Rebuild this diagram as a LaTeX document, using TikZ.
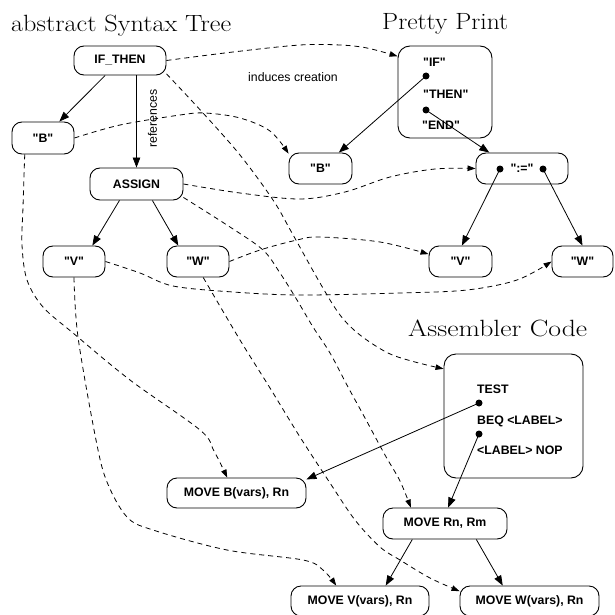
\documentclass[tikz,border=0pt]{standalone}
\usepackage{fontspec}
\usepackage{graphicx}
\newfontfamily\helv{Liberation Sans}
\usetikzlibrary{arrows.meta}

\begin{document}
\begin{tikzpicture}[x=1pt,y=-1pt,
  nbox/.style={draw, line width=0.9pt, rounded corners=10pt, inner sep=0pt,
    minimum height=31pt, font=\helv\bfseries\fontsize{12.3}{14}\selectfont},
  npanel/.style={draw, line width=0.9pt, rounded corners=12pt, inner sep=0pt},
  lbltxt/.style={inner sep=0pt, anchor=base west,
    font=\helv\bfseries\fontsize{12.3}{14}\selectfont},
  notetxt/.style={inner sep=0pt, font=\helv\fontsize{12.3}{14}\selectfont},
  ttl/.style={inner sep=0pt, anchor=base west, font=\fontsize{23.5}{28}\selectfont},
  ndot/.style={circle, fill=black, inner sep=0pt, minimum size=7pt},
  solidarrow/.style={line width=0.8pt, -{Triangle[length=10pt,width=7.5pt]}},
  dasharrow/.style={line width=0.8pt, dash pattern=on 5pt off 4pt,
    -{Triangle[length=8pt,width=5.5pt]}},
]
% canvas
\fill[white] (0,0) rectangle (614,615);
\path[use as bounding box] (0,0) rectangle (614,615);

% titles
\node[ttl] (tAst) at (11,32) {\resizebox{220pt}{\height}{abstract Syntax Tree}};
\node[ttl] (tPp)  at (382,30) {\resizebox{126pt}{\height}{Pretty Print}};
\node[ttl] (tAsm) at (408,336) {\resizebox{179pt}{\height}{Assembler Code}};

% abstract syntax tree
\node[nbox, minimum width=92pt, minimum height=29pt] (ift) at (120,60.5) {IF\_THEN};
\node[nbox, minimum width=62pt, minimum height=32pt] (bL)  at (43,138) {"B"};
\node[nbox, minimum width=93pt, minimum height=32pt] (asg) at (136.5,184) {ASSIGN};
\node[nbox, minimum width=62pt] (vL) at (74,261.5) {"V"};
\node[nbox, minimum width=62pt] (wL) at (198,261.5) {"W"};

% pretty print
\node[npanel, minimum width=94pt, minimum height=92pt] (pp) at (445,92) {};
\node[lbltxt] (ppIf)   at (423,67)  {"IF"};
\node[lbltxt] (ppThen) at (423,99)  {"THEN"};
\node[lbltxt] (ppEnd)  at (422,129) {"END"};
\node[ndot] (ppd1) at (426,76) {};
\node[ndot] (ppd2) at (426,110) {};
\node[nbox, minimum width=63pt] (bM)  at (320.5,168.5) {"B"};
\node[nbox, minimum width=92pt] (asn) at (522,168.5) {":="};
\node[ndot] (asd1) at (500,169) {};
\node[ndot] (asd2) at (543,169) {};
\node[nbox, minimum width=63pt] (vR) at (460.5,261.5) {"V"};
\node[nbox, minimum width=61pt] (wR) at (582.5,261.5) {"W"};

% assembler code
\node[npanel, minimum width=139pt, minimum height=124pt] (asm) at (513.5,416) {};
\node[lbltxt] (aTest) at (477,393) {TEST};
\node[lbltxt] (aBeq)  at (477,424) {BEQ <LABEL>};
\node[lbltxt] (aNop)  at (477,454) {<LABEL> NOP};
\node[ndot] (asmd1) at (479,403) {};
\node[ndot] (asmd2) at (479,434) {};
\node[nbox, minimum width=139pt, minimum height=30pt] (mvB) at (236.5,493) {MOVE B(vars), Rn};
\node[nbox, minimum width=124pt] (mvR) at (445,523.5) {MOVE Rn, Rm};
\node[nbox, minimum width=138pt, minimum height=30pt] (mvV) at (360,601) {MOVE V(vars), Rn};
\node[nbox, minimum width=139pt, minimum height=30pt] (mvW) at (529.5,601) {MOVE W(vars), Rn};

% edge labels
\node[notetxt] (lInd) at (293,77) {induces creation};
\node[notetxt, rotate=90] (lRef) at (152.5,118.5) {references};

% tree edges
\draw[solidarrow] (ift) -- (bL);
\draw[solidarrow] (asg.north |- ift.south) -- (asg.north);
\draw[solidarrow] (asg.224) -- (vL.41);
\draw[solidarrow] (asg.-46) -- (wL.141);
\draw[solidarrow] (ppd1.center) -- (bM.41);
\draw[solidarrow] (ppd2.center) -- (asn.154);
\draw[solidarrow] (asd1.center) -- (vR.85);
\draw[solidarrow] (asd2.center) -- (wR.north);
\draw[solidarrow] (asmd1.center) -- (mvB.11);
\draw[solidarrow] (asmd2.center) -- (mvR.79);
\draw[solidarrow] (mvR.206) -- (mvV.31);
\draw[solidarrow] (mvR.-27) -- (mvW.150);

% references from the syntax tree
\draw[dasharrow] plot[smooth, tension=0.55] coordinates
  {(ift.east) (233,52) (300,45) (340,45) (367,48) (pp.143)};
\draw[dasharrow] plot[smooth, tension=0.55] coordinates
  {(bL.east) (120,125) (180,115) (205,113) (240,118) (270,131) (bM.155)};
\draw[dasharrow] plot[smooth, tension=0.55] coordinates
  {(asg.east) (240,193) (300,199) (345,192) (390,177) (435,169) (asn.west)};
\draw[dasharrow] plot[smooth, tension=0.55] coordinates
  {(ift.-16) (203,113) (240,155) (273,200) (292,233) (320,283) (340,315) (360,335) (388,353) (415,362) (asm.146)};
\draw[dasharrow] plot[smooth, tension=0.55] coordinates
  {(wL.east) (260,250) (297,240) (320,237) (380,242) (vR.167)};
\draw[dasharrow] plot[smooth, tension=0.55] coordinates
  {(vL.east) (140,273) (173,286) (233,292) (300,295) (400,293) (467,290) (517,280) (wR.west)};
\draw[dasharrow] plot[smooth, tension=0.55] coordinates
  {(bL.222) (23,207) (22,245) (27,280) (43,307) (73,333) (130,380) (200,430) (214,451) (mvB.121)};
\draw[dasharrow] plot[smooth, tension=0.55] coordinates
  {(vL.south) (78,337) (96,440) (107,482) (127,517) (153,530) (227,550) (303,560) (323,570) (mvV.147)};
\draw[dasharrow] plot[smooth, tension=0.55] coordinates
  {(wL.-72) (240,340) (270,388) (300,437) (330,483) (355,520) (380,547) (400,560) (430,578) (mvW.172)};
\draw[dasharrow] plot[smooth, tension=0.55] coordinates
  {(asg.-16) (230,227) (263,250) (280,273) (297,300) (313,327) (330,353) (348,387) (365,418) (385,455) (400,481) (mvR.155)};
\end{tikzpicture}
\end{document}
